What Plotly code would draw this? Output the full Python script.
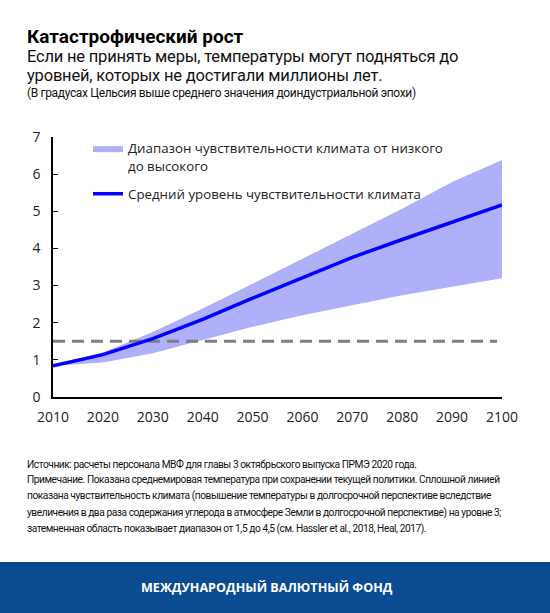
import plotly.graph_objects as go

# chart data
years = [2010, 2020, 2030, 2040, 2050, 2060, 2070, 2080, 2090, 2100]
mean_sens = [0.84, 1.14, 1.57, 2.09, 2.66, 3.22, 3.76, 4.24, 4.71, 5.17]
high_sens = [0.84, 1.20, 1.75, 2.38, 3.05, 3.73, 4.40, 5.07, 5.79, 6.38]
low_sens = [0.84, 0.93, 1.18, 1.53, 1.89, 2.20, 2.48, 2.74, 2.97, 3.20]
paris_years = [2010, 2099]
paris_level = [1.5, 1.5]

W, H = 550, 613
L, R, T, B = 53, 502, 137, 397  # plot area in pixels


def px(x):
    return (x - L) / (R - L)


def py(y):
    return (B - y) / (B - T)


def tight(text, ls):
    return '<span style="letter-spacing:%spx">%s</span>' % (ls, text)


fig = go.Figure()

fig.add_trace(go.Scatter(
    x=years, y=low_sens, mode="lines", line=dict(width=0, color="#afaffa"),
    showlegend=False, hoverinfo="skip", legendgroup="band",
))
fig.add_trace(go.Scatter(
    x=years, y=high_sens, mode="lines", line=dict(width=0, color="#afaffa"),
    fill="tonexty", fillcolor="#afaffa", legendgroup="band",
    name="Диапазон чувствительности климата от низкого<br>до высокого",
))
fig.add_trace(go.Scatter(
    x=paris_years, y=paris_level, mode="lines",
    line=dict(color="#7f7f7f", width=3, dash="12px,7px"),
    showlegend=False,
))
fig.add_trace(go.Scatter(
    x=years, y=mean_sens, mode="lines", line=dict(color="#0000ff", width=3.5),
    name="Средний уровень чувствительности климата", legendgroup="mean",
))

fig.update_xaxes(
    range=[2010, 2100], tickvals=years, showline=True, linecolor="black",
    linewidth=1.5, showgrid=False, zeroline=False, ticks="",
    tickfont=dict(family="Open Sans", size=14, color="#222"), ticklabelstandoff=6,
)
fig.update_yaxes(
    range=[0, 7], dtick=1, showline=True, linecolor="black", linewidth=1.5,
    showgrid=False, zeroline=False, ticks="inside", ticklen=5, tickcolor="black",
    tickfont=dict(family="Open Sans", size=14, color="#222"), ticklabelstandoff=8,
)

texts = [
    ("Катастрофический рост", 25, 23, dict(family="Roboto", size=19, color="black", weight="bold")),
    (tight("Если не принять меры, температуры могут подняться до", -0.2), 25, 45,
     dict(family="Roboto", size=16.5, color="#111")),
    (tight("уровней, которых не достигали миллионы лет.", -0.2), 25, 64,
     dict(family="Roboto", size=16.5, color="#111")),
    (tight("(В градусах Цельсия выше среднего значения доиндустриальной эпохи)", -0.35), 25, 84,
     dict(family="Roboto", size=12, color="#111")),
]
notes = [
    "Источник: расчеты персонала МВФ для главы 3 октябрьского выпуска ПРМЭ 2020 года.",
    "Примечание. Показана среднемировая температура при сохранении текущей политики. Сплошной линией",
    "показана чувствительность климата (повышение температуры в долгосрочной перспективе вследствие",
    "увеличения в два раза содержания углерода в атмосфере Земли в долгосрочной перспективе) на уровне 3;",
    "затемненная область показывает диапазон от 1,5 до 4,5 (см. Hassler et al., 2018, Heal, 2017).",
]
for i, line in enumerate(notes):
    texts.append((tight(line, -0.45), 25, 456 + i * 16.2, dict(family="Roboto", size=10.2, color="#111")))

annotations = [
    dict(text=t, x=px(x), y=py(y), xref="paper", yref="paper", xanchor="left",
         yanchor="top", showarrow=False, font=f)
    for t, x, y, f in texts
]
annotations.append(dict(
    text="МЕЖДУНАРОДНЫЙ ВАЛЮТНЫЙ ФОНД", x=px(267), y=py(587), xref="paper", yref="paper",
    xanchor="center", yanchor="middle", showarrow=False,
    font=dict(family="Open Sans", size=12.6, color="white", weight="bold"),
))

fig.update_layout(
    width=W, height=H, autosize=False,
    margin=dict(l=L, r=W - R, t=T, b=H - B, pad=0),
    paper_bgcolor="white", plot_bgcolor="white",
    showlegend=True,
    legend=dict(
        x=px(88), y=py(133), xanchor="left", yanchor="top", traceorder="grouped",
        bgcolor="rgba(0,0,0,0)", font=dict(family="Open Sans", size=13.3, color="#222"),
        tracegroupgap=8, itemwidth=30, valign="top",
    ),
    annotations=annotations,
    shapes=[dict(
        type="rect", xref="paper", yref="paper", x0=px(0), x1=px(W), y0=py(562), y1=py(H),
        fillcolor="#0b4b91", line=dict(width=0), layer="below",
    )],
)

fig.write_html("out.html", config={"displayModeBar": False},
               post_script="document.body.style.margin='0';")
